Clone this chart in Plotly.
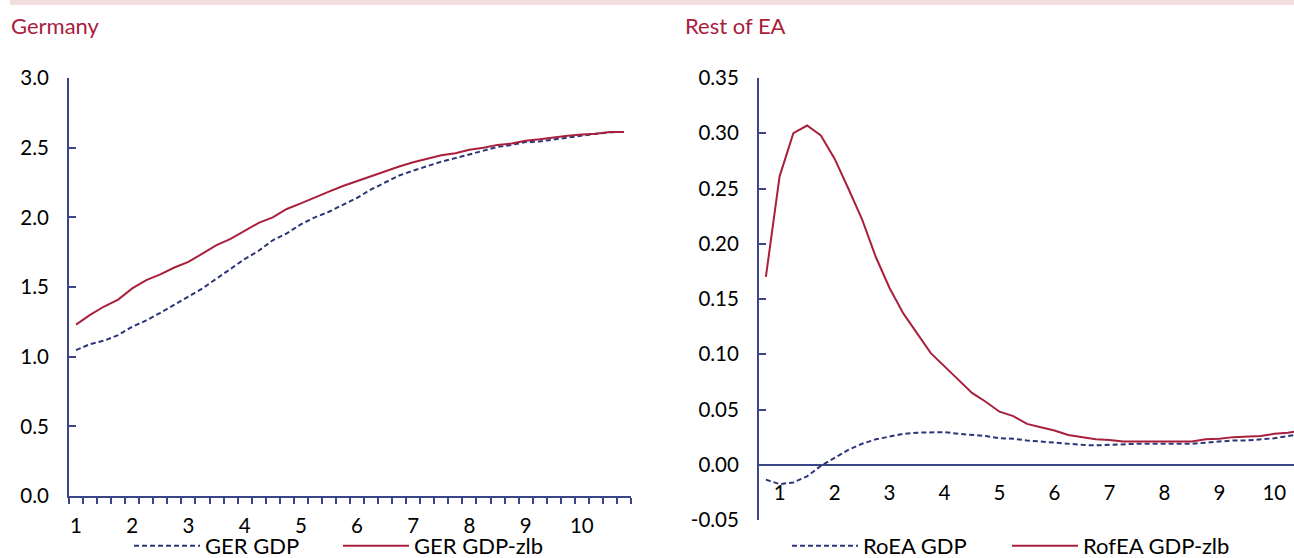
import plotly.graph_objects as go

# ---------------- data ----------------
years = ["1", "2", "3", "4", "5", "6", "7", "8", "9", "10"]
quarters = list(range(40))

ger_gdp = [1.047, 1.09, 1.115, 1.155, 1.215, 1.26, 1.315, 1.372, 1.435, 1.49,
           1.56, 1.63, 1.70, 1.76, 1.835, 1.885, 1.95, 2.00, 2.04, 2.09,
           2.14, 2.20, 2.25, 2.30, 2.335, 2.37, 2.40, 2.425, 2.45, 2.48,
           2.505, 2.52, 2.54, 2.545, 2.56, 2.575, 2.59, 2.60, 2.61, 2.613]
ger_gdp_zlb = [1.23, 1.30, 1.36, 1.41, 1.49, 1.55, 1.59, 1.64, 1.68, 1.74,
               1.80, 1.845, 1.90, 1.96, 2.00, 2.06, 2.10, 2.145, 2.185, 2.225,
               2.26, 2.30, 2.33, 2.365, 2.395, 2.42, 2.445, 2.46, 2.485, 2.50,
               2.52, 2.53, 2.55, 2.56, 2.575, 2.585, 2.595, 2.60, 2.613, 2.613]

roea_gdp = [-0.0135, -0.0175, -0.016, -0.0105, -0.001, 0.0065, 0.0135, 0.019, 0.023, 0.0255,
            0.028, 0.029, 0.0295, 0.0295, 0.028, 0.0268, 0.026, 0.024, 0.0235, 0.022,
            0.021, 0.0195, 0.019, 0.018, 0.0175, 0.018, 0.019, 0.019, 0.019, 0.019,
            0.019, 0.019, 0.020, 0.021, 0.022, 0.022, 0.023, 0.024, 0.026, 0.028]
roea_gdp_zlb = [0.170, 0.261, 0.300, 0.307, 0.298, 0.277, 0.250, 0.222, 0.188, 0.160,
                0.137, 0.119, 0.101, 0.089, 0.077, 0.065, 0.057, 0.048, 0.044, 0.037,
                0.034, 0.031, 0.027, 0.025, 0.023, 0.0225, 0.021, 0.021, 0.021, 0.021,
                0.021, 0.021, 0.023, 0.0235, 0.025, 0.0255, 0.026, 0.028, 0.029, 0.031]

left_tickvals = [0, 4, 8, 12, 16, 20, 24, 28, 32, 36]
right_tickvals = [1, 5, 9, 13, 17, 21, 25, 29, 33, 37]
left_yticks = [0.0, 0.5, 1.0, 1.5, 2.0, 2.5, 3.0]
right_yticks = [-0.05, 0.0, 0.05, 0.10, 0.15, 0.20, 0.25, 0.30, 0.35]

# ---------------- style ----------------
W, H = 1294, 558
RED = "#A8203C"
NAVY = "#2B3577"
AXIS = "#3A4688"
FONT = "Lato"

def px_x(p):
    return p / W

def px_y(p):
    return 1 - p / H

fig = go.Figure()

fig.add_trace(go.Scatter(x=quarters, y=ger_gdp, mode="lines", name="GER GDP",
                         line=dict(color=NAVY, width=2, dash="5px,3px"),
                         xaxis="x", yaxis="y", legend="legend", showlegend=True))
fig.add_trace(go.Scatter(x=quarters, y=ger_gdp_zlb, mode="lines", name="GER GDP-zlb",
                         line=dict(color=RED, width=2),
                         xaxis="x", yaxis="y", legend="legend2", showlegend=True))
fig.add_trace(go.Scatter(x=quarters, y=roea_gdp, mode="lines", name="RoEA GDP",
                         line=dict(color=NAVY, width=2, dash="5px,3px"),
                         xaxis="x2", yaxis="y2", legend="legend3", showlegend=True))
fig.add_trace(go.Scatter(x=quarters, y=roea_gdp_zlb, mode="lines", name="RofEA GDP-zlb",
                         line=dict(color=RED, width=2),
                         xaxis="x2", yaxis="y2", legend="legend4", showlegend=True))

left_dom_y = [px_y(496), px_y(78)]
right_dom_y = [px_y(520), px_y(78)]
r_ymin, r_ymax = -0.05, 0.35
zero_pos = right_dom_y[0] + (0 - r_ymin) / (r_ymax - r_ymin) * (right_dom_y[1] - right_dom_y[0])

tickfont = dict(family=FONT, size=20.5, color="#000000")
legfont = dict(family=FONT, size=22, color="#000000")


def leg(x_px):
    return dict(orientation="h", xref="container", yref="container",
                x=px_x(x_px), y=px_y(546), xanchor="left", yanchor="middle",
                font=legfont, bgcolor="rgba(0,0,0,0)", itemwidth=66,
                tracegroupgap=0, visible=True)


fig.update_layout(
    width=W, height=H,
    showlegend=True,
    margin=dict(l=0, r=0, t=0, b=0, autoexpand=False),
    paper_bgcolor="white", plot_bgcolor="white",
    font=dict(family=FONT, size=20, color="#000000"),
    xaxis=dict(domain=[px_x(69), px_x(631)], range=[-0.5, 39.5],
               tickmode="array", tickvals=left_tickvals, ticktext=years,
               ticks="", showline=True, linecolor=AXIS, linewidth=2,
               showgrid=False, zeroline=False, tickfont=tickfont,
               ticklabelstandoff=10,
               minor=dict(tickmode="linear", tick0=-0.5, dtick=1, ticks="outside",
                          ticklen=6, tickwidth=2, tickcolor=AXIS, showgrid=False),
               anchor="y"),
    yaxis=dict(domain=left_dom_y, range=[0, 3.0], tickmode="array",
               tickvals=left_yticks, ticktext=[f"{v:.1f}" for v in left_yticks],
               ticks="inside", ticklen=7, tickwidth=2, tickcolor=AXIS,
               showline=True, linecolor=AXIS, linewidth=2, showgrid=False,
               zeroline=False, tickfont=tickfont, ticklabelstandoff=14, anchor="x"),
    xaxis2=dict(domain=[px_x(759), 1.0], range=[-0.5, 38.43],
                tickmode="array", tickvals=right_tickvals, ticktext=years,
                ticks="", showline=False, showgrid=False, zeroline=False,
                tickfont=tickfont, anchor="free", position=zero_pos,
                ticklabelstandoff=14),
    yaxis2=dict(domain=right_dom_y, range=[r_ymin, r_ymax], tickmode="array",
                tickvals=right_yticks, ticktext=[f"{v:.2f}" for v in right_yticks],
                ticks="inside", ticklen=7, tickwidth=2, tickcolor=AXIS,
                showline=True, linecolor=AXIS, linewidth=2, showgrid=False,
                zeroline=True, zerolinecolor=AXIS, zerolinewidth=2,
                tickfont=tickfont, ticklabelstandoff=14, anchor="x2"),
    legend=leg(129),
    legend2=leg(338),
    legend3=leg(787),
    legend4=leg(1007),
    shapes=[dict(type="rect", xref="paper", yref="paper", x0=px_x(10), x1=1.0,
                 y0=px_y(5), y1=1.0, fillcolor="#F3DEDE", line=dict(width=0), layer="below")],
    annotations=[
        dict(text="Germany", xref="paper", yref="paper", x=px_x(9), y=px_y(26),
             xanchor="left", yanchor="middle", showarrow=False,
             font=dict(family=FONT, size=22, color=RED)),
        dict(text="Rest of EA", xref="paper", yref="paper", x=px_x(683), y=px_y(26),
             xanchor="left", yanchor="middle", showarrow=False,
             font=dict(family=FONT, size=22, color=RED)),
    ],
)

fig.write_html("out.html")
